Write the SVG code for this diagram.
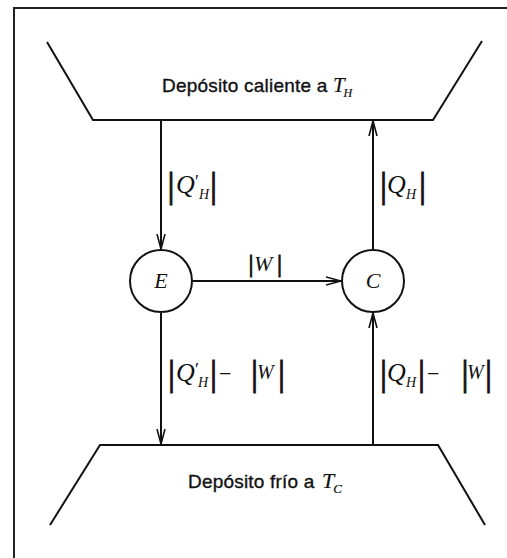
<svg xmlns="http://www.w3.org/2000/svg" width="507" height="558" viewBox="0 0 507 558">
<defs>
<style>
.ln{stroke:#111;stroke-width:2;fill:none}
.fr{stroke:#222;stroke-width:2;fill:none}
.sans{font-family:"Liberation Sans",Arial,sans-serif;font-size:19px;fill:#111;stroke:#111;stroke-width:0.35;letter-spacing:0.2px}
.ti{font-family:"Liberation Serif","Times New Roman",serif;font-style:italic;stroke-width:0.2;letter-spacing:0}
.ser{font-family:"Liberation Serif","Times New Roman",serif;font-style:italic;fill:#111}
.bar{font-style:normal;font-size:35px;stroke:#111;stroke-width:0.9}
.barS{font-style:normal;font-size:25px;stroke:#111;stroke-width:0.9}
.q{font-size:26px}
.sub{font-size:14px}
.pr{font-style:normal;font-size:18px}
.mi{font-style:normal;font-size:22px}
</style>
<marker id="ah" viewBox="0 0 16 10" refX="15" refY="5" markerWidth="16" markerHeight="10" markerUnits="userSpaceOnUse" orient="auto">
<path d="M0,1 L15,5 L0,9" fill="none" stroke="#111" stroke-width="1.6"/>
</marker>
</defs>
<rect width="507" height="558" fill="#fff"/>
<path class="fr" d="M14,558 L14,8 L507,8"/>

<g id="hot">
<path class="ln" d="M47,42 L93,120 L433,120 L482,41"/>
<text class="sans" x="162" y="92">Depósito caliente a <tspan class="ti" font-size="21">T</tspan><tspan class="ti" font-size="12" dx="-1" dy="5">H</tspan></text>
</g>

<g id="cold">
<path class="ln" d="M50,525 L100,445 L438,445 L485,525"/>
<text class="sans" x="188" y="488">Depósito frío a <tspan class="ti" font-size="22" dx="2">T</tspan><tspan class="ti" font-size="13" dx="-1" dy="5">C</tspan></text>
</g>

<g id="E">
<circle class="ln" cx="161" cy="281" r="31"/>
<text class="ser" x="161" y="288" font-size="22" text-anchor="middle">E</text>
</g>

<g id="C">
<circle class="ln" cx="373" cy="281" r="31"/>
<text class="ser" x="373" y="288" font-size="22" text-anchor="middle">C</text>
</g>

<g id="connectors">
<line class="ln" x1="161" y1="120" x2="161" y2="249" marker-end="url(#ah)"/>
<line class="ln" x1="373" y1="249" x2="373" y2="121" marker-end="url(#ah)"/>
<line class="ln" x1="192" y1="281" x2="341" y2="281" marker-end="url(#ah)"/>
<line class="ln" x1="161" y1="313" x2="161" y2="444" marker-end="url(#ah)"/>
<line class="ln" x1="373" y1="444" x2="373" y2="313" marker-end="url(#ah)"/>
</g>

<g id="labels">
<text class="ser"><tspan class="bar" x="167.5" y="197">|</tspan><tspan class="q" x="176" y="193">Q</tspan><tspan class="pr" x="195" y="188">′</tspan><tspan class="sub" x="199" y="199">H</tspan><tspan class="bar" x="210" y="197">|</tspan></text>
<text class="ser"><tspan class="bar" x="380" y="197">|</tspan><tspan class="q" x="387" y="193">Q</tspan><tspan class="sub" x="406" y="199">H</tspan><tspan class="bar" x="419" y="197">|</tspan></text>
<text class="ser"><tspan class="barS" x="248.5" y="272">|</tspan><tspan x="254" y="271" font-size="22">W</tspan><tspan class="barS" x="277" y="272">|</tspan></text>
<text class="ser"><tspan class="bar" x="168" y="385">|</tspan><tspan class="q" x="176" y="381">Q</tspan><tspan class="pr" x="195" y="376">′</tspan><tspan class="sub" x="198" y="387">H</tspan><tspan class="bar" x="210" y="385">|</tspan><tspan class="mi" x="219" y="381">−</tspan><tspan class="bar" x="251" y="385">|</tspan><tspan x="257" y="379" font-size="20">W</tspan><tspan class="bar" x="278" y="385">|</tspan></text>
<text class="ser"><tspan class="bar" x="380" y="385">|</tspan><tspan class="q" x="387" y="381">Q</tspan><tspan class="sub" x="406" y="387">H</tspan><tspan class="bar" x="418" y="385">|</tspan><tspan class="mi" x="427" y="381">−</tspan><tspan class="bar" x="461.5" y="385">|</tspan><tspan x="467" y="379" font-size="20">W</tspan><tspan class="bar" x="485" y="385">|</tspan></text>
</g>
</svg>
